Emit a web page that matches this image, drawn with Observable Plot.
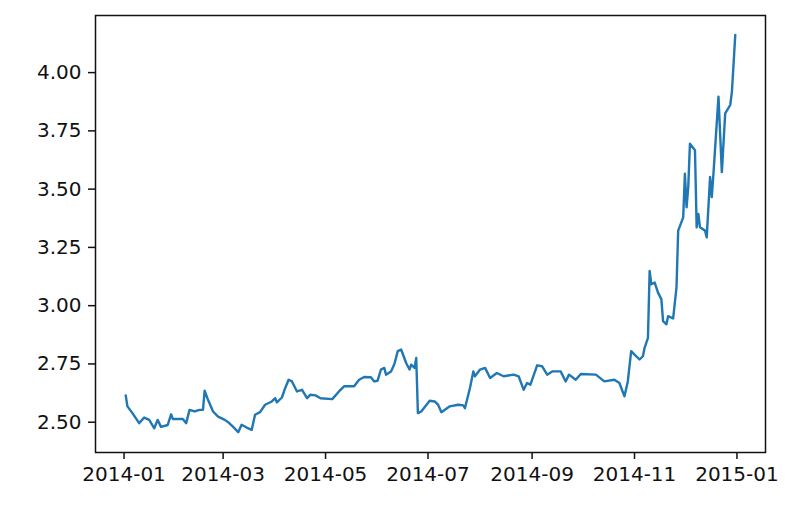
<!DOCTYPE html>
<html>
<head>
<meta charset="utf-8">
<script src="https://cdn.jsdelivr.net/npm/d3@7"></script>
<script src="https://cdn.jsdelivr.net/npm/@observablehq/plot@0.6"></script>
<style>
  html, body { margin: 0; padding: 0; background: #fff; }
  #chart svg { display: block; }
</style>
</head>
<body>
<div id="chart"></div>
<script>
const dates = [
  "2014-01-02","2014-01-03","2014-01-06","2014-01-10","2014-01-13","2014-01-16","2014-01-19","2014-01-21","2014-01-23","2014-01-27",
  "2014-01-29","2014-01-30","2014-02-05","2014-02-07","2014-02-09","2014-02-12","2014-02-15","2014-02-17","2014-02-18","2014-02-20",
  "2014-02-23","2014-02-26","2014-03-02","2014-03-04","2014-03-07","2014-03-10","2014-03-12","2014-03-15","2014-03-18","2014-03-20",
  "2014-03-23","2014-03-26","2014-03-30","2014-04-01","2014-04-02","2014-04-05","2014-04-07","2014-04-09","2014-04-11","2014-04-14",
  "2014-04-17","2014-04-20","2014-04-22","2014-04-25","2014-04-28","2014-05-05","2014-05-09","2014-05-12","2014-05-18","2014-05-21",
  "2014-05-24","2014-05-28","2014-05-30","2014-06-01","2014-06-03","2014-06-05","2014-06-06","2014-06-09","2014-06-11","2014-06-13",
  "2014-06-15","2014-06-18","2014-06-20","2014-06-21","2014-06-23","2014-06-24","2014-06-25","2014-06-27","2014-07-02","2014-07-05",
  "2014-07-07","2014-07-09","2014-07-14","2014-07-19","2014-07-22","2014-07-23","2014-07-26","2014-07-28","2014-07-29","2014-08-01",
  "2014-08-04","2014-08-07","2014-08-11","2014-08-15","2014-08-21","2014-08-24","2014-08-27","2014-08-29","2014-08-31","2014-09-04",
  "2014-09-07","2014-09-10","2014-09-13","2014-09-18","2014-09-21","2014-09-23","2014-09-27","2014-09-30","2014-10-09","2014-10-14",
  "2014-10-20","2014-10-23","2014-10-26","2014-10-28","2014-10-30","2014-11-01","2014-11-04","2014-11-06","2014-11-07","2014-11-09",
  "2014-11-10","2014-11-11","2014-11-13","2014-11-15","2014-11-17","2014-11-18","2014-11-20","2014-11-21","2014-11-24","2014-11-26",
  "2014-11-27","2014-11-30","2014-12-01","2014-12-02","2014-12-03","2014-12-04","2014-12-07","2014-12-08","2014-12-09","2014-12-10",
  "2014-12-13","2014-12-14","2014-12-16","2014-12-17","2014-12-18","2014-12-21","2014-12-23","2014-12-25","2014-12-28","2014-12-29",
  "2014-12-31"
];
const values = [
  2.615,2.568,2.539,2.496,2.520,2.510,2.474,2.510,2.480,2.488,
  2.534,2.514,2.514,2.496,2.553,2.546,2.553,2.553,2.635,2.596,
  2.546,2.524,2.510,2.500,2.480,2.457,2.489,2.477,2.467,2.532,
  2.543,2.575,2.589,2.603,2.585,2.606,2.647,2.682,2.675,2.632,
  2.639,2.603,2.618,2.615,2.603,2.599,2.632,2.654,2.654,2.682,
  2.694,2.693,2.675,2.678,2.726,2.733,2.704,2.718,2.750,2.805,
  2.812,2.754,2.726,2.747,2.733,2.776,2.539,2.546,2.592,2.589,
  2.575,2.543,2.568,2.575,2.572,2.560,2.647,2.718,2.697,2.726,
  2.733,2.690,2.711,2.697,2.704,2.697,2.639,2.668,2.661,2.744,
  2.740,2.704,2.718,2.718,2.675,2.704,2.682,2.707,2.704,2.675,
  2.682,2.668,2.611,2.675,2.805,2.790,2.769,2.783,2.819,2.862,
  3.149,3.092,3.099,3.056,3.027,2.934,2.920,2.955,2.945,3.078,
  3.322,3.379,3.566,3.422,3.509,3.695,3.667,3.336,3.394,3.336,
  3.322,3.293,3.552,3.466,3.566,3.897,3.573,3.825,3.861,3.918,
  4.162
];
const xTicks = ["2014-01-01","2014-03-01","2014-05-01","2014-07-01","2014-09-01","2014-11-01","2015-01-01"];
const yTicks = [2.50, 2.75, 3.00, 3.25, 3.50, 3.75, 4.00];

const data = dates.map((d, i) => ({date: new Date(d), value: values[i]}));

const chart = Plot.plot({
  width: 804,
  height: 514,
  marginLeft: 95,
  marginRight: 39,
  marginTop: 15,
  marginBottom: 62,
  style: {fontFamily: "DejaVu Sans", fontSize: "20px", color: "#111", background: "#fff"},
  x: {type: "utc", domain: [new Date("2013-12-15"), new Date("2015-01-18")]},
  y: {domain: [2.37, 4.245]},
  marks: [
    Plot.line(data, {x: "date", y: "value", stroke: "#1f77b4", strokeWidth: 2.4}),
    Plot.frame({stroke: "#111", strokeWidth: 1.5}),
    Plot.axisX({ticks: xTicks.map(d => new Date(d)), tickFormat: "%Y-%m", tickSize: 7, tickPadding: 7, strokeWidth: 1.5, label: null, fontSize: 20}),
    Plot.axisY({ticks: yTicks, tickFormat: ".2f", tickSize: 7, tickPadding: 7, strokeWidth: 1.5, label: null, fontSize: 20})
  ]
});
document.getElementById("chart").appendChild(chart);
</script>
</body>
</html>
